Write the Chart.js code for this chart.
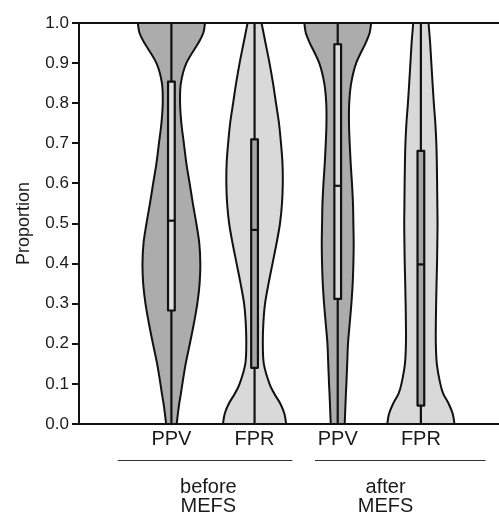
<!DOCTYPE html>
<html>
<head>
<meta charset="utf-8">
<script src="https://cdn.jsdelivr.net/npm/chart.js@4.4.1/dist/chart.umd.min.js"></script>
<style>
  html, body { margin: 0; padding: 0; background: #fff; }
  #wrap { width: 499px; height: 514px; }
</style>
</head>
<body>
<div id="wrap"><canvas id="violinChart" width="499" height="514"></canvas></div>
<script>
// Violin data (densities, arbitrary units)
const categories = ['PPV', 'FPR', 'PPV', 'FPR'];
const groupLabels = [['before', 'MEFS'], ['after', 'MEFS']];
const yTicks = [0, 0.1, 0.2, 0.3, 0.4, 0.5, 0.6, 0.7, 0.8, 0.9, 1.0];

const levels = [0, 0.025, 0.05, 0.075, 0.1, 0.15, 0.2, 0.25, 0.3, 0.35, 0.4, 0.45,
  0.5, 0.55, 0.6, 0.65, 0.7, 0.75, 0.8, 0.85, 0.9, 0.95, 0.975, 1.0];

const ppvBefore = [5.3, 6.5, 7.8, 9.5, 11, 14.3, 18.5, 22.5, 26, 28.3, 29, 28,
  25, 21.5, 18.3, 15, 12.5, 10, 8.7, 9.5, 15, 27, 32, 33.7];
const fprBefore = [31.7, 30, 26, 20, 15, 9.3, 8.3, 8.8, 10.5, 14, 18, 22,
  25.5, 27.5, 28.3, 28, 26.5, 24.5, 21.5, 18.5, 15, 11, 9, 7];
const ppvAfter = [7, 7.4, 7.8, 8.2, 8.7, 9.5, 10.3, 12, 13.7, 15, 15.7, 16,
  15.7, 15.3, 14.3, 13, 12, 11.3, 11.5, 13.5, 18.5, 28, 32, 33.5];
const fprAfter = [33.7, 32, 28, 22.5, 19.5, 16, 15, 15, 15.3, 15.7, 16.2, 16.5,
  16.7, 16.5, 16.3, 16, 15.5, 14.5, 13, 11.7, 10.5, 9.3, 8.5, 7.7];

const q1 = [0.283, 0.14, 0.312, 0.046];
const medians = [0.507, 0.484, 0.594, 0.398];
const q3 = [0.854, 0.71, 0.947, 0.681];
const whiskerLow = [0, 0, 0, 0];
const whiskerHigh = [1, 1, 1, 1];

// Layout (x axis units)
const slotX = [1.1, 2.09, 3.08, 4.07];
const groupLines = [[0.46, 2.54], [2.81, 4.84]];
const groupTextX = [1.54, 3.65];
const maxHalfWidth = 0.4;
const boxHalfWidth = 0.04;
const FONT = '"Liberation Sans", Arial, sans-serif';

const densities = [ppvBefore, fprBefore, ppvAfter, fprAfter];
const violinFill = ['#acacac', '#d9d9d9', '#acacac', '#d9d9d9'];
const boxFill = ['#dedede', '#a6a6a6', '#dedede', '#a6a6a6'];
const maxDensity = Math.max(...densities.flat());

function smoothTo(ctx, pts, start) {
    if (start) ctx.moveTo(pts[0].x, pts[0].y); else ctx.lineTo(pts[0].x, pts[0].y);
    for (let i = 0; i < pts.length - 1; i++) {
        const p0 = pts[Math.max(i - 1, 0)];
        const p1 = pts[i];
        const p2 = pts[i + 1];
        const p3 = pts[Math.min(i + 2, pts.length - 1)];
        ctx.bezierCurveTo(
            p1.x + (p2.x - p0.x) / 6, p1.y + (p2.y - p0.y) / 6,
            p2.x - (p3.x - p1.x) / 6, p2.y - (p3.y - p1.y) / 6,
            p2.x, p2.y);
    }
}

const violinPlugin = {
    id: 'violins',
    beforeDatasetsDraw(chart) {
        const ctx = chart.ctx;
        const xs = chart.scales.x;
        const ys = chart.scales.y;
        const area = chart.chartArea;
        ctx.save();
        ctx.beginPath();
        ctx.rect(area.left, area.top - 2, area.right - area.left, area.bottom - area.top + 2);
        ctx.clip();

        densities.forEach(function(dens, i) {
            const cx = slotX[i];
            const left = levels.map((v, k) => ({
                x: xs.getPixelForValue(cx - dens[k] / maxDensity * maxHalfWidth),
                y: ys.getPixelForValue(v)
            }));
            const right = levels.map((v, k) => ({
                x: xs.getPixelForValue(cx + dens[k] / maxDensity * maxHalfWidth),
                y: ys.getPixelForValue(v)
            })).reverse();

            // violin body
            ctx.beginPath();
            smoothTo(ctx, left, true);
            smoothTo(ctx, right, false);
            ctx.closePath();
            ctx.fillStyle = violinFill[i];
            ctx.fill();
            ctx.lineWidth = 2;
            ctx.strokeStyle = '#111';
            ctx.lineJoin = 'round';
            ctx.stroke();

            // whisker
            const px = xs.getPixelForValue(cx);
            ctx.beginPath();
            ctx.moveTo(px, ys.getPixelForValue(whiskerLow[i]));
            ctx.lineTo(px, ys.getPixelForValue(whiskerHigh[i]));
            ctx.lineWidth = 2.2;
            ctx.stroke();

            // box
            const bl = xs.getPixelForValue(cx - boxHalfWidth);
            const br = xs.getPixelForValue(cx + boxHalfWidth);
            const bt = ys.getPixelForValue(q3[i]);
            const bb = ys.getPixelForValue(q1[i]);
            ctx.fillStyle = boxFill[i];
            ctx.fillRect(bl, bt, br - bl, bb - bt);
            ctx.strokeRect(bl, bt, br - bl, bb - bt);

            // median
            const my = ys.getPixelForValue(medians[i]);
            ctx.beginPath();
            ctx.moveTo(bl, my);
            ctx.lineTo(br, my);
            ctx.stroke();
        });
        ctx.restore();
    },
    afterDraw(chart) {
        const ctx = chart.ctx;
        const xs = chart.scales.x;
        const ys = chart.scales.y;
        const area = chart.chartArea;
        ctx.save();

        // top frame line
        ctx.beginPath();
        ctx.moveTo(area.left - 1, ys.getPixelForValue(1));
        ctx.lineTo(area.right, ys.getPixelForValue(1));
        ctx.lineWidth = 2.2;
        ctx.strokeStyle = '#111';
        ctx.stroke();

        // group brackets and labels
        ctx.lineWidth = 1;
        ctx.strokeStyle = '#333';
        ctx.fillStyle = '#1a1a1a';
        ctx.font = '20px ' + FONT;
        ctx.textAlign = 'center';
        ctx.textBaseline = 'alphabetic';
        groupLines.forEach(function(g, i) {
            ctx.beginPath();
            ctx.moveTo(xs.getPixelForValue(g[0]), area.bottom + 36.5);
            ctx.lineTo(xs.getPixelForValue(g[1]), area.bottom + 36.5);
            ctx.stroke();
            const tx = xs.getPixelForValue(groupTextX[i]);
            ctx.fillText(groupLabels[i][0], tx, area.bottom + 69);
            ctx.fillText(groupLabels[i][1], tx, area.bottom + 88);
        });
        ctx.restore();
    }
};

new Chart(document.getElementById('violinChart'), {
    type: 'scatter',
    data: {
        datasets: [{
            label: 'median',
            data: medians.map((m, i) => ({ x: slotX[i], y: m })),
            pointRadius: 0,
            pointHoverRadius: 0
        }]
    },
    options: {
        responsive: false,
        animation: false,
        events: [],
        layout: { padding: { top: 23, right: 0, bottom: 0, left: 0 } },
        plugins: {
            legend: { display: false },
            tooltip: { enabled: false }
        },
        scales: {
            x: {
                type: 'linear',
                min: 0,
                max: 5,
                afterBuildTicks: function(scale) {
                    scale.ticks = slotX.map(v => ({ value: v }));
                },
                afterFit: function(scale) { scale.height = 90; },
                border: { display: true, color: '#111', width: 2 },
                grid: { display: true, drawOnChartArea: false, drawTicks: false },
                ticks: {
                    autoSkip: false,
                    maxRotation: 0,
                    padding: 3,
                    color: '#1a1a1a',
                    font: { family: FONT, size: 20 },
                    callback: function(value, index) { return categories[index]; }
                }
            },
            y: {
                min: 0,
                max: 1,
                afterBuildTicks: function(scale) {
                    scale.ticks = yTicks.map(v => ({ value: v }));
                },
                afterFit: function(scale) { scale.width = 79; },
                border: { display: true, color: '#111', width: 2 },
                grid: { drawOnChartArea: false, drawTicks: true, tickLength: 7, color: '#111', lineWidth: 2 },
                ticks: {
                    padding: 3,
                    color: '#1a1a1a',
                    font: { family: FONT, size: 17 },
                    callback: function(value) { return value.toFixed(1); }
                },
                title: {
                    display: true,
                    text: 'Proportion',
                    color: '#1a1a1a',
                    padding: { top: 13, bottom: 0 },
                    font: { family: FONT, size: 18 }
                }
            }
        }
    },
    plugins: [violinPlugin]
});
</script>
</body>
</html>
